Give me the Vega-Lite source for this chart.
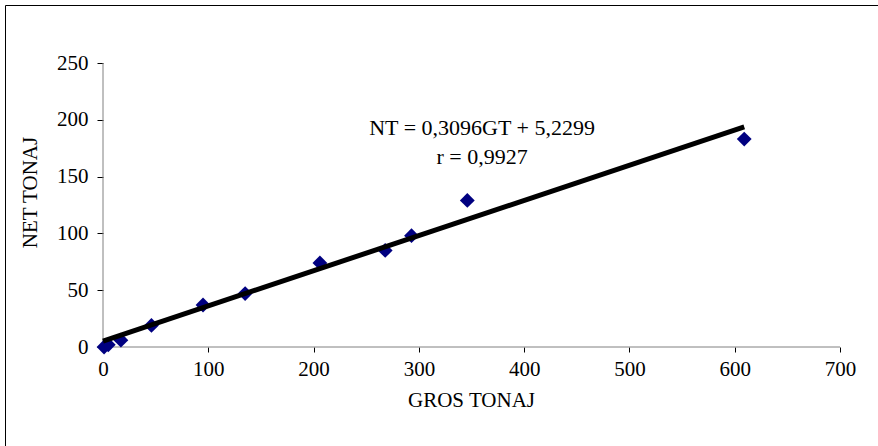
{
  "$schema": "https://vega.github.io/schema/vega-lite/v6.json",
  "width": 880,
  "height": 450,
  "autosize": {"type": "none"},
  "padding": {"left": 5, "top": 5, "right": 0, "bottom": 0},
  "background": "white",
  "config": {
    "view": {"stroke": "#000000", "strokeWidth": 1},
    "font": "Liberation Serif"
  },
  "datasets": {
    "points": [
      {"GT": 1, "NT": 0},
      {"GT": 5, "NT": 2},
      {"GT": 17, "NT": 6},
      {"GT": 46, "NT": 19},
      {"GT": 95, "NT": 37},
      {"GT": 135, "NT": 47},
      {"GT": 206, "NT": 74},
      {"GT": 268, "NT": 85},
      {"GT": 293, "NT": 98},
      {"GT": 346, "NT": 129},
      {"GT": 609, "NT": 183}
    ],
    "trend": [{"GT": 0, "NT": 5.2299}, {"GT": 609, "NT": 193.77}],
    "xaxis": [{"GT": 0, "NT": 0}, {"GT": 700, "NT": 0}],
    "yaxis": [{"GT": 0, "NT": 0}, {"GT": 0, "NT": 250}],
    "labels": [
      {"GT": 360, "NT": 192.8, "text": "NT = 0,3096GT + 5,2299"},
      {"GT": 360, "NT": 167.3, "text": "r = 0,9927"}
    ]
  },
  "layer": [
    {
      "data": {"name": "xaxis"},
      "mark": {"type": "line", "color": "#808080", "strokeWidth": 1},
      "encoding": {
        "x": {
          "field": "GT", "type": "quantitative",
          "scale": {"domain": [-93.08, 742.7], "nice": false, "zero": false},
          "axis": {
            "values": [0, 100, 200, 300, 400, 500, 600, 700],
            "domain": false, "grid": false, "offset": -108,
            "tickSize": 5, "tickColor": "#000000",
            "labelFont": "Liberation Serif", "labelFontSize": 21, "labelColor": "#000000",
            "labelPadding": 6, "labelFlush": false,
            "title": "GROS TONAJ", "titleFont": "Liberation Serif", "titleFontSize": 21,
            "titleFontWeight": "normal", "titleColor": "#000000", "titlePadding": 10,
            "titleX": 466
          }
        },
        "y": {
          "field": "NT", "type": "quantitative",
          "scale": {"domain": [-95.07, 301.06], "nice": false, "zero": false},
          "axis": {
            "values": [0, 50, 100, 150, 200, 250],
            "domain": false, "grid": false, "offset": -98,
            "tickSize": 6, "tickColor": "#000000",
            "labelFont": "Liberation Serif", "labelFontSize": 21, "labelColor": "#000000",
            "labelPadding": 9, "labelFlush": false,
            "title": "NET TONAJ", "titleFont": "Liberation Serif", "titleFontSize": 21,
            "titleFontWeight": "normal", "titleColor": "#000000", "titlePadding": 16,
            "titleY": 187
          }
        }
      }
    },
    {
      "data": {"name": "yaxis"},
      "mark": {"type": "line", "color": "#808080", "strokeWidth": 1},
      "encoding": {
        "x": {"field": "GT", "type": "quantitative"},
        "y": {"field": "NT", "type": "quantitative"}
      }
    },
    {
      "data": {"name": "points"},
      "mark": {"type": "point", "shape": "diamond", "filled": true, "color": "#000080", "size": 220, "opacity": 1},
      "encoding": {
        "x": {"field": "GT", "type": "quantitative"},
        "y": {"field": "NT", "type": "quantitative"}
      }
    },
    {
      "data": {"name": "trend"},
      "mark": {"type": "line", "color": "#000000", "strokeWidth": 5},
      "encoding": {
        "x": {"field": "GT", "type": "quantitative"},
        "y": {"field": "NT", "type": "quantitative"}
      }
    },
    {
      "data": {"name": "labels"},
      "mark": {"type": "text", "font": "Liberation Serif", "fontSize": 22, "color": "#000000", "align": "center", "baseline": "middle"},
      "encoding": {
        "x": {"field": "GT", "type": "quantitative"},
        "y": {"field": "NT", "type": "quantitative"},
        "text": {"field": "text"}
      }
    }
  ]
}
